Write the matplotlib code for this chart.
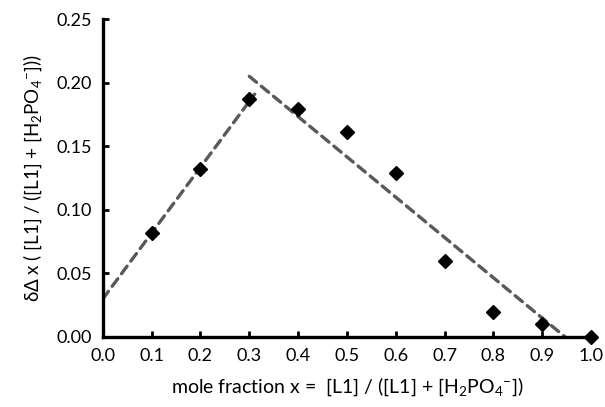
import numpy as np
import matplotlib
matplotlib.use('Agg')
import matplotlib.pyplot as plt

# Job plot data
x_frac = [0.1, 0.2, 0.3, 0.4, 0.5, 0.6, 0.7, 0.8, 0.9, 1.0]
y_val = [0.082, 0.132, 0.187, 0.179, 0.161, 0.129, 0.060, 0.020, 0.010, 0.0]

# dashed trend lines (end points)
left_x = [0.0, 0.311]
left_y = [0.030, 0.191]
right_x = [0.30, 0.947]
right_y = [0.205, 0.0]

x_ticks = [0.0, 0.1, 0.2, 0.3, 0.4, 0.5, 0.6, 0.7, 0.8, 0.9, 1.0]
y_ticks = [0.00, 0.05, 0.10, 0.15, 0.20, 0.25]

plt.rcParams['font.family'] = ['Lato', 'DejaVu Sans']
plt.rcParams['mathtext.fontset'] = 'custom'
plt.rcParams['mathtext.rm'] = 'Lato'
plt.rcParams['mathtext.it'] = 'Lato:italic'
plt.rcParams['mathtext.default'] = 'rm'

fig = plt.figure(figsize=(6.05, 4.07), dpi=100)
ax = fig.add_axes([0.170, 0.172, 0.807, 0.781])

ax.plot(left_x, left_y, color='#595959', lw=2.4, dashes=(2.8, 1.9), dash_capstyle='round', zorder=2)
ax.plot(right_x, right_y, color='#595959', lw=2.4, dashes=(2.8, 1.9), dash_capstyle='round', zorder=2)
ax.plot(x_frac, y_val, 'D', color='black', markersize=7.5, zorder=3, clip_on=False)

ax.set_xlim(0, 1.0)
ax.set_ylim(0, 0.25)
ax.set_xticks(x_ticks)
ax.set_yticks(y_ticks)
ax.set_xticklabels(['%.1f' % t for t in x_ticks])
ax.set_yticklabels(['%.2f' % t for t in y_ticks])

for s in ['top', 'right']:
    ax.spines[s].set_visible(False)
for s in ['left', 'bottom']:
    ax.spines[s].set_linewidth(2.4)
    ax.spines[s].set_color('black')
ax.tick_params(direction='in', length=4, width=2, labelsize=13, colors='black', pad=8)

ax.set_xlabel(r'mole fraction x =  [L1] / ([L1] + [H$_2$PO$_4$$^{-}$])', fontsize=14, labelpad=8)
ax.set_ylabel(r'δΔ x ( [L1] / ([L1] + [H$_2$PO$_4$$^{-}$]))', fontsize=13.5, labelpad=9)

fig.savefig('out.png', dpi=100)
